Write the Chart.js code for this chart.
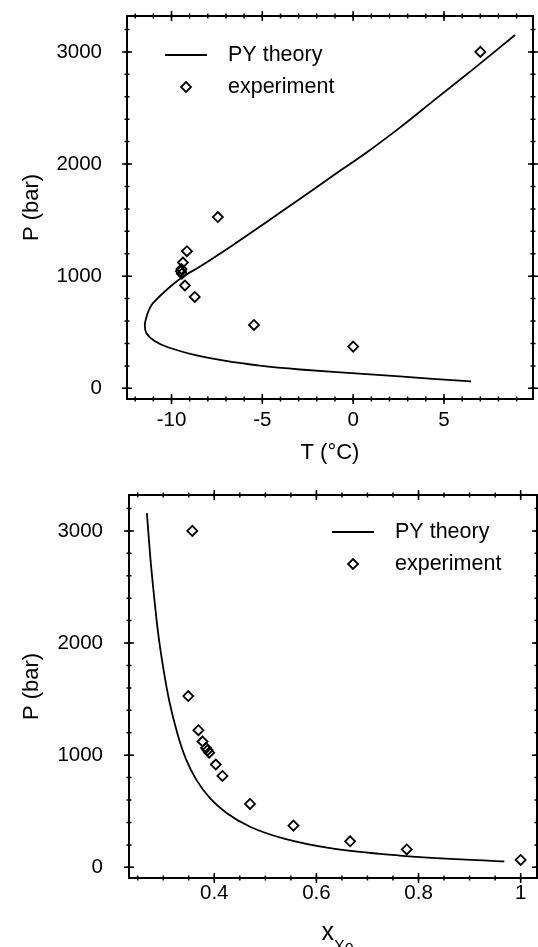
<!DOCTYPE html>
<html>
<head>
<meta charset="utf-8">
<script src="https://cdn.jsdelivr.net/npm/chart.js@4/dist/chart.umd.min.js"></script>
<style>
  html, body { margin: 0; padding: 0; background: #fff; }
  #wrap { position: relative; width: 538px; height: 947px; overflow: hidden; }
  canvas { position: absolute; left: 0; }
  #chartT { top: 0; }
  #chartX { top: 470px; }
</style>
</head>
<body>
<div id="wrap">
  <canvas id="chartT" width="538" height="470"></canvas>
  <canvas id="chartX" width="538" height="477"></canvas>
</div>
<script>
// PY theory, pressure vs temperature (upper branch first)
const pyT = [8.91, 6.61, 4.41, 2.57, 0.74, -1.10, -2.92, -4.76, -6.59, -8.45, -9.37, -10.28, -11.02, -11.23, -11.37, -11.47, -11.38, -10.93, -10.16, -8.67, -7.25, -5.14, -2.92, 0.73, 4.38, 6.49];
const pyTP = [3150, 2846, 2563, 2325, 2103, 1897, 1691, 1484, 1281, 1084, 995, 877, 759, 704, 640, 566, 492, 423, 364, 296, 251, 202, 168, 127, 85, 63];

// PY theory, pressure vs xenon mole fraction
const pyX = [0.268, 0.275, 0.282, 0.290, 0.300, 0.312, 0.328, 0.345, 0.365, 0.392, 0.424, 0.470, 0.535, 0.633, 0.763, 0.893, 0.968];
const pyXP = [3158, 2750, 2420, 2090, 1780, 1480, 1190, 960, 780, 615, 485, 362, 258, 166, 105, 68, 54];

// experimental runs: pressure, temperature, composition
const expP = [3000, 1527, 1223, 1122, 1065, 1045, 1022, 917, 815, 565, 372, 232, 160, 66];
const expT = [7.0, -7.45, -9.15, -9.37, -9.45, -9.48, -9.43, -9.26, -8.72, -5.46, 0.0];
const expX = [0.357, 0.349, 0.369, 0.377, 0.384, 0.387, 0.390, 0.403, 0.416, 0.470, 0.555, 0.666, 0.777, 1.0];

// labelled tick values
const pTicks = [0, 1000, 2000, 3000];
const tTicks = [-10, -5, 0, 5];
const xeTicks = [0.4, 0.6, 0.8, 1];

const FONT = '"Liberation Sans", Arial, Helvetica, sans-serif';
Chart.defaults.font.family = FONT;
Chart.defaults.color = '#000';

// box frame with crossing major/minor ticks on all four sides
const frameTicks = {
  id: 'frameTicks',
  afterDatasetsDraw(chart, args, opts) {
    const {ctx, chartArea: a, scales: {x, y}} = chart;
    ctx.save();
    ctx.strokeStyle = '#000';
    ctx.lineWidth = 2;
    ctx.strokeRect(a.left, a.top, a.right - a.left, a.bottom - a.top);
    ctx.lineWidth = 1.5;
    const mark = (scale, values, len) => {
      values.forEach(v => {
        const p = scale.getPixelForValue(v);
        ctx.beginPath();
        if (scale.isHorizontal()) {
          ctx.moveTo(p, a.bottom - len); ctx.lineTo(p, a.bottom + len);
          ctx.moveTo(p, a.top - len); ctx.lineTo(p, a.top + len);
        } else {
          ctx.moveTo(a.left - len, p); ctx.lineTo(a.left + len, p);
          ctx.moveTo(a.right - len, p); ctx.lineTo(a.right + len, p);
        }
        ctx.stroke();
      });
    };
    const minor = (scale, step) => {
      const out = [];
      for (let k = Math.ceil(scale.min / step - 1e-9); k * step <= scale.max + 1e-9; k++) out.push(k * step);
      return out;
    };
    mark(x, minor(x, opts.xMinor), 2.5);
    mark(x, x.ticks.map(t => t.value), 5);
    mark(y, minor(y, opts.yMinor), 2.5);
    mark(y, y.ticks.map(t => t.value), 5);
    ctx.restore();
  }
};

// two-row legend placed inside the plot box
const boxLegend = {
  id: 'boxLegend',
  afterDraw(chart, args, opts) {
    const {ctx, chartArea: a} = chart;
    const [line, pts] = chart.data.datasets;
    const x0 = a.left + opts.dx, y0 = a.top + opts.dy;
    ctx.save();
    ctx.fillStyle = '#000';
    ctx.strokeStyle = '#000';
    ctx.font = '21.5px ' + FONT;
    ctx.textBaseline = 'middle';
    ctx.lineWidth = line.borderWidth;
    ctx.beginPath();
    ctx.moveTo(x0, y0);
    ctx.lineTo(x0 + 42, y0);
    ctx.stroke();
    ctx.fillText(line.label, x0 + 63, y0);
    const cx = x0 + 21, cy = y0 + 32, r = pts.pointRadius;
    ctx.lineWidth = pts.borderWidth;
    ctx.beginPath();
    ctx.moveTo(cx, cy - r); ctx.lineTo(cx + r, cy); ctx.lineTo(cx, cy + r); ctx.lineTo(cx - r, cy);
    ctx.closePath();
    ctx.stroke();
    ctx.fillText(pts.label, x0 + 63, cy);
    ctx.restore();
  }
};

// x axis title with a subscript
const subTitle = {
  id: 'subTitle',
  afterDraw(chart, args, opts) {
    if (!opts.main) return;
    const {ctx, chartArea: a} = chart;
    const cx = (a.left + a.right) / 2;
    const base = chart.height - opts.lift;
    ctx.save();
    ctx.fillStyle = '#000';
    ctx.textBaseline = 'alphabetic';
    ctx.font = '25px ' + FONT;
    ctx.textAlign = 'right';
    ctx.fillText(opts.main, cx + 1, base);
    ctx.font = '16px ' + FONT;
    ctx.textAlign = 'left';
    ctx.fillText(opts.sub, cx + 1, base + 11.5);
    ctx.restore();
  }
};

function makePanel(id, p) {
  const curve = p.curveX.map((v, i) => ({x: v, y: p.curveY[i]}));
  const points = p.ptsX.map((v, i) => ({x: v, y: expP[i]}));
  return new Chart(document.getElementById(id), {
    type: 'scatter',
    data: {
      datasets: [
        {
          label: 'PY theory',
          data: curve,
          showLine: true,
          pointRadius: 0,
          borderColor: '#000',
          borderWidth: 1.8,
          tension: p.tension,
          cubicInterpolationMode: p.interp
        },
        {
          label: 'experiment',
          data: points,
          pointStyle: 'rectRot',
          pointRadius: 5,
          borderWidth: 1.8,
          borderColor: '#000',
          backgroundColor: 'rgba(0,0,0,0)'
        }
      ]
    },
    options: {
      responsive: false,
      animation: false,
      events: [],
      layout: { autoPadding: false, padding: { top: p.top, right: p.right, left: 0, bottom: 0 } },
      scales: {
        x: {
          min: p.xMin, max: p.xMax,
          grid: { display: false, drawTicks: false },
          border: { display: false },
          afterBuildTicks: s => { s.ticks = p.xTicks.map(v => ({value: v})); },
          afterFit: s => { s.height = p.xHeight; s.paddingLeft = 0; s.paddingRight = 0; },
          ticks: {
            autoSkip: false, maxRotation: 0,
            padding: p.xPad, font: { size: 20.5 },
            callback: v => String(v)
          },
          title: {
            display: !!p.xTitle, text: p.xTitle,
            font: { size: 22 }, padding: { top: 0, bottom: 4 }
          }
        },
        y: {
          min: -95, max: 3320,
          grid: { display: false, drawTicks: false },
          border: { display: false },
          afterBuildTicks: s => { s.ticks = pTicks.map(v => ({value: v})); },
          afterFit: s => { s.width = p.yWidth; s.paddingTop = 0; s.paddingBottom = 0; },
          ticks: {
            autoSkip: false,
            padding: p.yPad, font: { size: 20.5 },
            callback: v => String(v)
          },
          title: {
            display: true, text: 'P (bar)',
            font: { size: 22 }, padding: { top: 19, bottom: 0 }
          }
        }
      },
      plugins: {
        legend: { display: false },
        tooltip: { enabled: false },
        frameTicks: { xMinor: p.xMinor, yMinor: 200 },
        boxLegend: { dx: p.legDx, dy: p.legDy },
        subTitle: p.sub || {}
      }
    },
    plugins: [frameTicks, boxLegend, subTitle]
  });
}

makePanel('chartT', {
  curveX: pyT, curveY: pyTP, ptsX: expT,
  tension: 0.3, interp: 'default',
  xMin: -12.45, xMax: 9.9, xTicks: tTicks, xMinor: 1,
  xTitle: 'T (°C)',
  top: 16, right: 5, xHeight: 71, yWidth: 127, xPad: 8.7, yPad: 25,
  legDx: 38, legDy: 39
});

makePanel('chartX', {
  curveX: pyX, curveY: pyXP, ptsX: expX,
  tension: 0, interp: 'monotone',
  xMin: 0.233, xMax: 1.032, xTicks: xeTicks, xMinor: 0.05,
  xTitle: '',
  top: 25, right: 1, xHeight: 69, yWidth: 129, xPad: 2.7, yPad: 26,
  legDx: 203, legDy: 37,
  sub: { main: 'x', sub: 'Xe', lift: 7 }
});
</script>
</body>
</html>
